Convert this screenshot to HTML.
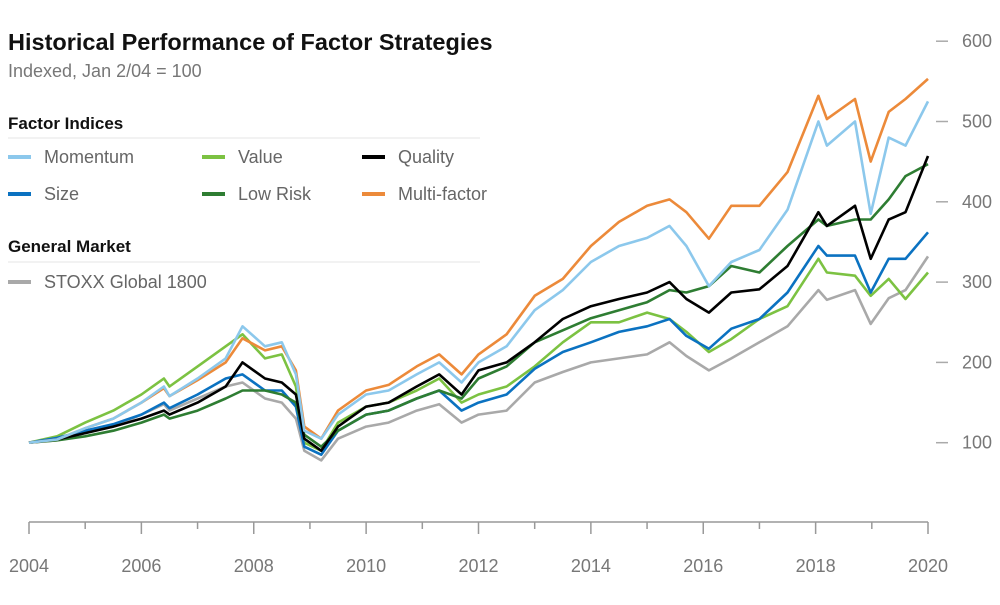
<!DOCTYPE html>
<html><head><meta charset="utf-8"><style>
body{margin:0;background:#fff;font-family:"Liberation Sans",sans-serif;}
svg text{font-family:"Liberation Sans",sans-serif;}
</style></head><body>
<svg id="chart" width="1000" height="600" viewBox="0 0 1000 600" xmlns="http://www.w3.org/2000/svg">
<text x="8" y="50" font-size="23.5" font-weight="bold" fill="#111">Historical Performance of Factor Strategies</text>
<text x="8" y="77" font-size="18" fill="#777">Indexed, Jan 2/04 = 100</text>
<text x="8" y="129" font-size="17" font-weight="bold" fill="#111">Factor Indices</text>
<line x1="8" y1="138" x2="480" y2="138" stroke="#e4e4e4" stroke-width="1"/>
<text x="8" y="252" font-size="17" font-weight="bold" fill="#111">General Market</text>
<line x1="8" y1="262" x2="480" y2="262" stroke="#e4e4e4" stroke-width="1"/>
<g id="legend"></g>
<g id="axes"></g>
<g id="series"></g>
</svg>
<script>
const dates=[2004.0,2004.5,2005.0,2005.5,2006.0,2006.4,2006.5,2007.0,2007.5,2007.8,2008.2,2008.5,2008.75,2008.9,2009.2,2009.5,2010.0,2010.4,2010.9,2011.3,2011.7,2012.0,2012.5,2013.0,2013.5,2014.0,2014.5,2015.0,2015.4,2015.7,2016.1,2016.5,2017.0,2017.5,2018.05,2018.2,2018.7,2018.98,2019.3,2019.6,2020.0];
const stoxx=[100,103,113,120,135,148,140,155,170,175,155,150,130,90,78,105,120,125,140,148,125,135,140,175,188,200,205,210,225,208,190,205,225,245,290,278,290,248,280,290,332];
const valueS=[100,108,125,140,160,180,170,195,220,235,205,210,170,100,90,125,145,150,165,180,150,160,170,195,225,250,250,262,254,238,213,229,254,270,329,312,308,283,304,279,312];
const sizeS=[100,106,115,123,135,150,143,160,180,185,165,165,145,95,85,115,135,140,155,165,140,150,160,192,213,225,238,245,254,233,217,242,254,287,345,333,333,287,329,329,362];
const lowRisk=[100,103,108,115,125,135,130,140,155,165,165,160,150,110,95,115,135,140,155,165,155,180,195,225,240,255,265,275,290,287,295,320,312,345,378,370,378,378,403,432,447];
const quality=[100,104,112,120,130,140,135,150,170,200,180,175,160,105,90,120,145,150,170,185,160,190,200,225,254,270,279,287,300,279,262,287,291,320,387,370,395,329,378,387,457];
const multi=[100,104,118,130,150,168,158,178,200,230,215,220,190,120,105,140,165,172,195,210,185,210,235,283,304,345,375,395,403,387,354,395,395,437,532,503,528,450,512,528,553];
const momentum=[100,104,118,130,150,170,158,180,205,245,220,225,185,115,105,135,160,165,185,200,175,200,220,265,290,325,345,355,370,345,295,325,340,390,500,470,500,385,480,470,525];
const yTicks=[100,200,300,400,500,600];
const xTicks=[2004,2006,2008,2010,2012,2014,2016,2018,2020];
const NS="http://www.w3.org/2000/svg";
const xs=y=>29+(y-2004)*(928-29)/16;
const ys=v=>523-v*0.803;
const axes=document.getElementById('axes');
function mk(tag,attrs,parent){const e=document.createElementNS(NS,tag);for(const k in attrs)e.setAttribute(k,attrs[k]);parent.appendChild(e);return e;}
const axisLine=mk('line',{x1:29,y1:522,x2:928,y2:522,stroke:'#999','stroke-width':1.5},axes);


for(let yr=2004;yr<=2020;yr++){
  const t=mk('line',{x1:xs(yr),y1:522,x2:xs(yr),y2:yr%2===0?534:529,stroke:'#999','stroke-width':1.5},axes);
  
  
}
xTicks.forEach(yr=>{
  const t=mk('text',{x:xs(yr),y:572,'font-size':18,fill:'#777','text-anchor':'middle'},axes);
  t.textContent=yr;
  
  
});
yTicks.forEach(v=>{
  const l=mk('line',{x1:936,y1:ys(v),x2:948,y2:ys(v),stroke:'#aaa','stroke-width':1.5},axes);
  
  
  const t=mk('text',{x:962,y:ys(v)+6,'font-size':18,fill:'#777'},axes);
  t.textContent=v;
  
  
});
const seriesG=document.getElementById('series');
const list=[[stoxx,'#a9a9a9','stoxx-line'],[valueS,'#7cc242','value-line'],[sizeS,'#0b72c1','size-line'],[lowRisk,'#2e7d32','low-risk-line'],[quality,'#000000','quality-line'],[multi,'#ec8a3a','multi-factor-line'],[momentum,'#8cc8ec','momentum-line']];
list.forEach(([vals,col,name])=>{
  const d=vals.map((v,i)=>(i?'L':'M')+xs(dates[i]).toFixed(1)+' '+ys(v).toFixed(1)).join(' ');
  const p=mk('path',{d:d,fill:'none',stroke:col,'stroke-width':2.6,'stroke-linejoin':'round'},seriesG);
  
  
});
const legend=document.getElementById('legend');
const items=[['Momentum','#8cc8ec',8,157],['Value','#7cc242',202,157],['Quality','#000000',362,157],['Size','#0b72c1',8,194],['Low Risk','#2e7d32',202,194],['Multi-factor','#ec8a3a',362,194],['STOXX Global 1800','#a9a9a9',8,282]];
items.forEach(([lab,col,x,y])=>{
  const g=mk('g',{},legend);
  
  
  mk('line',{x1:x,y1:y,x2:x+23,y2:y,stroke:col,'stroke-width':4},g);
  const t=mk('text',{x:x+36,y:y+6,'font-size':18,fill:'#666'},g);
  t.textContent=lab;
});
</script>
</body></html>
